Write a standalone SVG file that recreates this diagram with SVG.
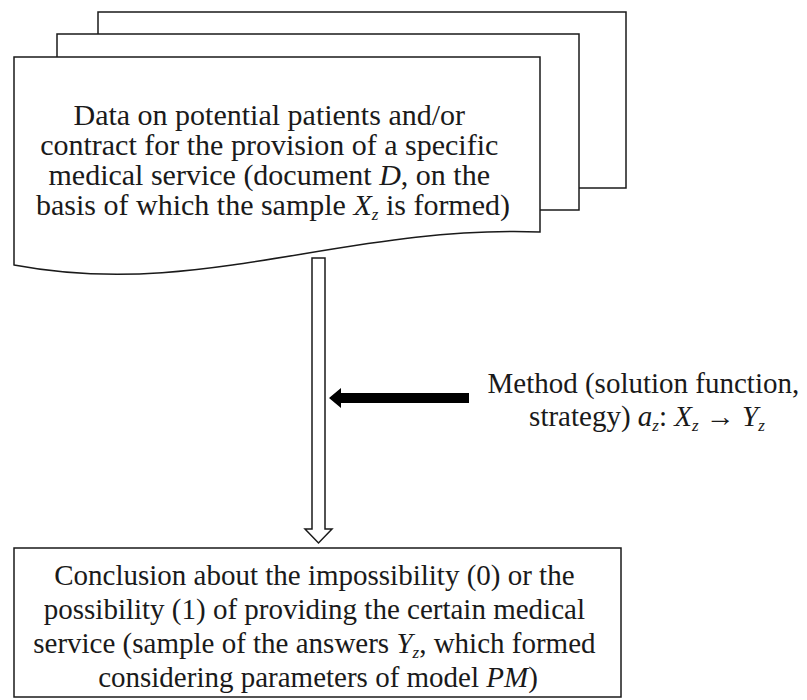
<svg xmlns="http://www.w3.org/2000/svg" width="807" height="700" viewBox="0 0 807 700">
  <style>
    .box { fill: #ffffff; stroke: #1a1a1a; stroke-width: 1.5; }
    .txt { font-family: "Liberation Serif", "Times New Roman", serif; font-size: 29px; fill: #1a1a1a; text-anchor: middle; }
    .big { font-size: 30px; }
    .it { font-style: italic; }
    .sub { font-style: italic; font-size: 17px; }
  </style>
  <rect width="807" height="700" fill="#ffffff"/>

  <g id="documents">
    <rect class="box" x="98" y="12" width="528" height="176"/>
    <rect class="box" x="57" y="34" width="522" height="176"/>
    <path class="box" d="M14,265 V57 H540 V232 C340,225 200,300 14,265 Z"/>
    <text class="txt big">
      <tspan x="273" y="125">Data on potential patients and/or</tspan>
      <tspan x="273" y="155">contract for the provision of a specific</tspan>
      <tspan x="273" y="185">medical service (document <tspan class="it">D</tspan>, on the</tspan>
      <tspan x="273" y="215">basis of which the sample <tspan class="it">X</tspan><tspan class="sub" dy="5">z</tspan><tspan dy="-5"> is formed)</tspan></tspan>
    </text>
  </g>

  <g id="method">
    <text class="txt">
      <tspan x="647" y="393">Method (solution function,</tspan>
      <tspan x="647" y="426">strategy) <tspan class="it">a</tspan><tspan class="sub" dy="5">z</tspan><tspan dy="-5">: </tspan><tspan class="it">X</tspan><tspan class="sub" dy="5">z</tspan><tspan dy="-5"> → </tspan><tspan class="it">Y</tspan><tspan class="sub" dy="5">z</tspan></tspan>
    </text>
  </g>

  <g id="conclusion">
    <rect class="box" x="14" y="548" width="607" height="149"/>
    <text class="txt">
      <tspan x="318" y="585">Conclusion about the impossibility (0) or the</tspan>
      <tspan x="318" y="619">possibility (1) of providing the certain medical</tspan>
      <tspan x="318" y="653">service (sample of the answers <tspan class="it">Y</tspan><tspan class="sub" dy="5">z</tspan><tspan dy="-5">, which formed</tspan></tspan>
      <tspan x="318" y="687">considering parameters of model <tspan class="it">PM</tspan>)</tspan>
    </text>
  </g>

  <g id="connectors">
    <path d="M312,258 H325 V529 H332 L318.5,543 L305,529 H312 Z" fill="#ffffff" stroke="#1a1a1a" stroke-width="1.5"/>
    <path d="M469,393 H341 V388 L329,398 L341,408 V403 H469 Z" fill="#000000"/>
  </g>
</svg>
